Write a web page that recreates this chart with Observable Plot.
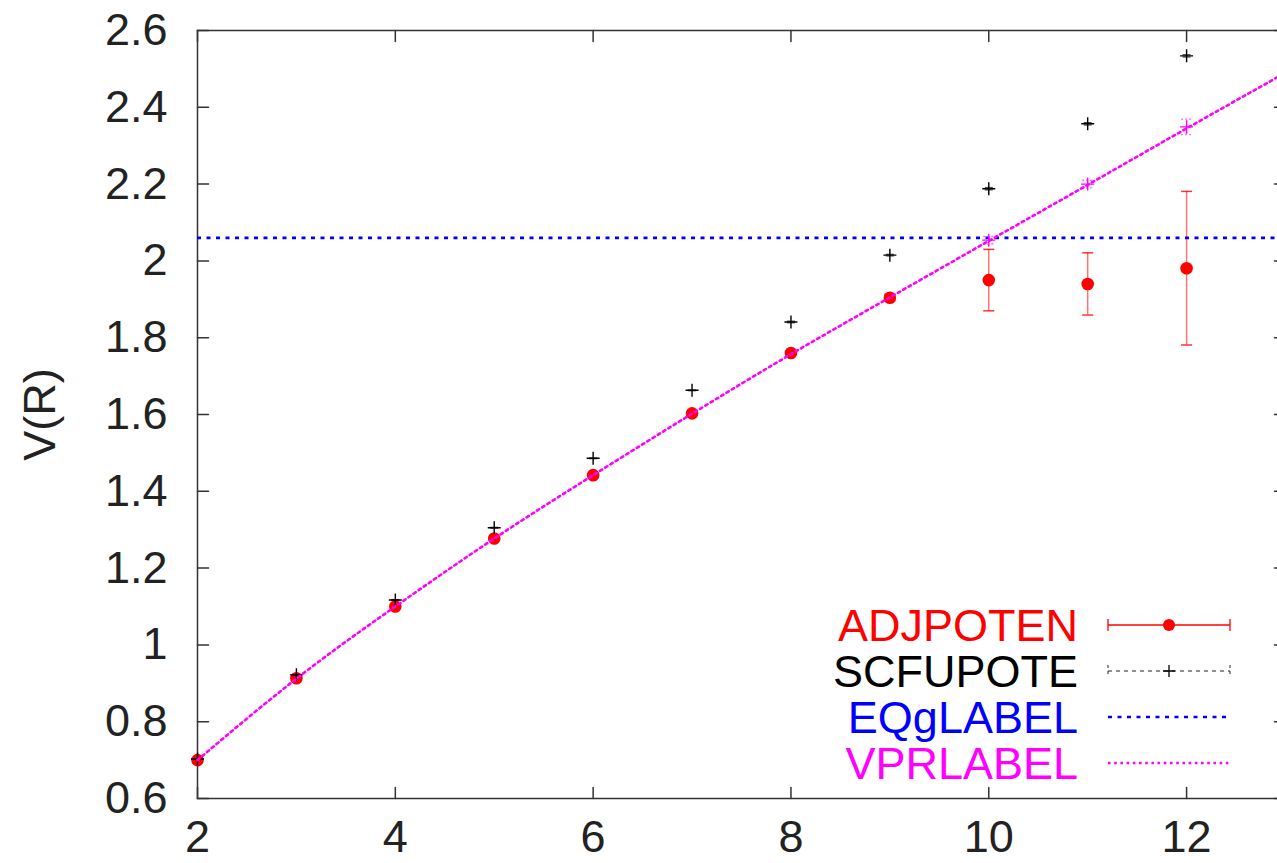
<!DOCTYPE html>
<html>
<head>
<meta charset="utf-8">
<script src="https://cdn.jsdelivr.net/npm/d3@7"></script>
<script src="https://cdn.jsdelivr.net/npm/@observablehq/plot@0.6"></script>
<style>
  html, body { margin: 0; padding: 0; background: white; overflow: hidden; }
  #wrap { position: relative; width: 1277px; height: 863px; }
  #wrap svg { position: absolute; left: 0; top: 0; }
</style>
</head>
<body>
<div id="wrap"></div>
<script>
// ---- data ----
const R = [2, 3, 4, 5, 6, 7, 8, 9, 10, 11, 12];
const adjV   = [0.700, 0.913, 1.100, 1.277, 1.442, 1.603, 1.760, 1.904, 1.950, 1.940, 1.981];
const adjErr = [0.004, 0.004, 0.004, 0.004, 0.004, 0.004, 0.006, 0.008, 0.080, 0.081, 0.200];
const scfV   = [0.703, 0.922, 1.117, 1.305, 1.486, 1.663, 1.841, 2.015, 2.188, 2.357, 2.534];
const scfErr = [0.001, 0.001, 0.001, 0.001, 0.001, 0.001, 0.002, 0.002, 0.003, 0.003, 0.003];
const vprPtR   = [10, 11, 12];
const vprPtV   = [2.054, 2.200, 2.349];
const vprPtErr = [0.010, 0.010, 0.020];
const curveR = [2, 3, 4, 5, 6, 7, 8, 9, 10, 11, 12, 13];
const curveV = [0.700, 0.912, 1.100, 1.277, 1.442, 1.602, 1.757, 1.905, 2.052, 2.198, 2.345, 2.490];
const eqValue = 2.06;
const xTicks = [2, 4, 6, 8, 10, 12];
const yTicks = [0.6, 0.8, 1.0, 1.2, 1.4, 1.6, 1.8, 2.0, 2.2, 2.4, 2.6];
const legendLabels = ["ADJPOTEN", "SCFUPOTE", "EQgLABEL", "VPRLABEL"];
const legendColors = ["#ff0000", "#000000", "#0000ff", "#ff00ff"];
const yLabel = "V(R)";

const adj = R.map((x, i) => ({x, y: adjV[i], e: adjErr[i]}));
const scf = R.map((x, i) => ({x, y: scfV[i], e: scfErr[i]}));
const vprPts = vprPtR.map((x, i) => ({x, y: vprPtV[i], e: vprPtErr[i]}));
const curve = curveR.map((x, i) => ({x, y: curveV[i]}));

const plusSym = {draw(ctx, size) { const r = Math.sqrt(size / Math.PI); ctx.moveTo(-r, 0); ctx.lineTo(r, 0); ctx.moveTo(0, -r); ctx.lineTo(0, r); }};
const capSym  = {draw(ctx, size) { const r = Math.sqrt(size / Math.PI); ctx.moveTo(-r, 0); ctx.lineTo(r, 0); }};
const tickShape = {draw(ctx, l) { ctx.moveTo(0, 0); ctx.lineTo(0, -l); }};

const font = "'Liberation Sans', Arial, Helvetica, sans-serif";
const fs = 45;
const axisColor = "#333";
const fmt = d => String(+(+d).toFixed(1));
const tickOpts = {length: 11, anchor: "start", shape: tickShape, stroke: axisColor, strokeWidth: 1.5};

const chart = Plot.plot({
  width: 1277,
  height: 863,
  marginLeft: 197,
  marginRight: -8,
  marginTop: 30,
  marginBottom: 65,
  x: {domain: [2, 13]},
  y: {domain: [0.6, 2.6]},
  style: {fontFamily: font, fontSize: fs + "px", color: "#222", background: "white", overflow: "visible"},
  marks: [
    // axes: labels
    Plot.axisY(yTicks, {anchor: "left", tickSize: 0, tickPadding: 30, tickFormat: fmt, label: null, fill: "#222", fontSize: fs}),
    Plot.axisX(xTicks, {anchor: "bottom", tickSize: 0, tickPadding: 22, tickFormat: fmt, label: null, fill: "#222", fontSize: fs}),
    // inward ticks on all four sides
    Plot.vector(yTicks, {y: d => d, frameAnchor: "left", rotate: 90, ...tickOpts}),
    Plot.vector(yTicks, {y: d => d, frameAnchor: "right", rotate: -90, ...tickOpts}),
    Plot.vector(xTicks, {x: d => d, frameAnchor: "bottom", rotate: 0, ...tickOpts}),
    Plot.vector(xTicks, {x: d => d, frameAnchor: "top", rotate: 180, ...tickOpts}),
    Plot.frame({stroke: axisColor, strokeWidth: 1.5}),
    // y label
    Plot.text([yLabel], {text: d => d, frameAnchor: "left", dx: -157, rotate: -90, fontSize: fs, fill: "#222", textAnchor: "middle", lineAnchor: "middle"}),

    // ADJPOTEN: red points with error bars
    Plot.ruleX(adj, {x: "x", y1: d => d.y - d.e, y2: d => d.y + d.e, stroke: "#ff0000", strokeOpacity: 0.55, strokeWidth: 1.5}),
    Plot.dot(adj, {x: "x", y: d => d.y + d.e, symbol: capSym, r: 5.5, stroke: "#ff0000", strokeOpacity: 0.8, strokeWidth: 1.5, fill: "none"}),
    Plot.dot(adj, {x: "x", y: d => d.y - d.e, symbol: capSym, r: 5.5, stroke: "#ff0000", strokeOpacity: 0.8, strokeWidth: 1.5, fill: "none"}),
    Plot.dot(adj, {x: "x", y: "y", r: 6.3, fill: "#ff0000", stroke: "none"}),

    // SCFUPOTE: black crosses with tiny error bars
    Plot.dot(scf, {x: "x", y: d => d.y + d.e, symbol: capSym, r: 4, stroke: "#222", strokeOpacity: 0.8, strokeWidth: 1.3, fill: "none"}),
    Plot.dot(scf, {x: "x", y: d => d.y - d.e, symbol: capSym, r: 4, stroke: "#222", strokeOpacity: 0.8, strokeWidth: 1.3, fill: "none"}),
    Plot.dot(scf, {x: "x", y: "y", symbol: plusSym, r: 6.5, stroke: "#000", strokeWidth: 1.4, fill: "none"}),

    // EQgLABEL: blue dotted horizontal
    Plot.ruleY([eqValue], {y: d => d, stroke: "#0000ff", strokeWidth: 2.6, strokeDasharray: "4,5.5"}),

    // VPRLABEL: magenta dotted curve
    Plot.line(curve, {x: "x", y: "y", stroke: "#ff00ff", strokeWidth: 2.6, strokeDasharray: "2.6,3.6", curve: "natural"}),

    // magenta crosses with error bars
    Plot.ruleX(vprPts, {x: "x", y1: d => d.y - d.e, y2: d => d.y + d.e, stroke: "#ff00ff", strokeOpacity: 0.6, strokeWidth: 1.3, strokeDasharray: "2,2"}),
    Plot.dot(vprPts, {x: "x", y: d => d.y + d.e, symbol: capSym, r: 5.5, stroke: "#ff00ff", strokeOpacity: 0.6, strokeWidth: 1.3, strokeDasharray: "2,2", fill: "none"}),
    Plot.dot(vprPts, {x: "x", y: d => d.y - d.e, symbol: capSym, r: 5.5, stroke: "#ff00ff", strokeOpacity: 0.6, strokeWidth: 1.3, strokeDasharray: "2,2", fill: "none"}),
    Plot.dot(vprPts, {x: "x", y: "y", symbol: plusSym, r: 6.5, stroke: "#ff00ff", strokeWidth: 1.4, fill: "none"})
  ]
});

const wrap = document.getElementById("wrap");
wrap.appendChild(chart);

// ---- legend overlay ----
const L = d3.select(wrap).append("svg")
  .attr("width", 1277).attr("height", 863)
  .style("pointer-events", "none");

const textRight = 1078, sx0 = 1108, sx1 = 1230, sxm = 1169, rowY0 = 625, rowDy = 46;
const rows = L.selectAll("g.row").data(legendLabels).join("g")
  .attr("transform", (d, i) => `translate(0,${rowY0 + i * rowDy})`);

rows.append("text")
  .attr("x", textRight).attr("y", 0)
  .attr("text-anchor", "end").attr("dominant-baseline", "central")
  .attr("font-family", font).attr("font-size", fs)
  .attr("fill", (d, i) => legendColors[i])
  .text(d => d);

// row 0: red errorbar + dot
const r0 = rows.filter((d, i) => i === 0);
r0.append("line").attr("x1", sx0).attr("x2", sx1).attr("y1", 0).attr("y2", 0).attr("stroke", legendColors[0]).attr("stroke-width", 1.3);
r0.selectAll("line.cap").data([sx0, sx1]).join("line").attr("class", "cap")
  .attr("x1", d => d).attr("x2", d => d).attr("y1", -6).attr("y2", 6).attr("stroke", legendColors[0]).attr("stroke-width", 1.3);
r0.append("circle").attr("cx", sxm).attr("cy", 0).attr("r", 6).attr("fill", legendColors[0]);

// row 1: black dashed errorbar + plus
const r1 = rows.filter((d, i) => i === 1);
r1.append("line").attr("x1", sx0).attr("x2", sx1).attr("y1", 0).attr("y2", 0).attr("stroke", "#222").attr("stroke-width", 1).attr("stroke-dasharray", "4,4");
r1.selectAll("line.cap").data([sx0, sx1]).join("line").attr("class", "cap")
  .attr("x1", d => d).attr("x2", d => d).attr("y1", -6).attr("y2", 6).attr("stroke", "#222").attr("stroke-width", 1).attr("stroke-dasharray", "3,3");
r1.append("path").attr("d", `M${sxm - 6},0H${sxm + 6}M${sxm},-6V6`).attr("stroke", "#000").attr("stroke-width", 1.3).attr("fill", "none");

// row 2: blue dotted
rows.filter((d, i) => i === 2).append("line").attr("x1", sx0).attr("x2", sx1 - 4).attr("y1", 0).attr("y2", 0)
  .attr("stroke", legendColors[2]).attr("stroke-width", 2.6).attr("stroke-dasharray", "4,5.5");
// row 3: magenta dotted
rows.filter((d, i) => i === 3).append("line").attr("x1", sx0).attr("x2", sx1).attr("y1", 0).attr("y2", 0)
  .attr("stroke", legendColors[3]).attr("stroke-width", 2.6).attr("stroke-dasharray", "2.6,3.6");
</script>
</body>
</html>
